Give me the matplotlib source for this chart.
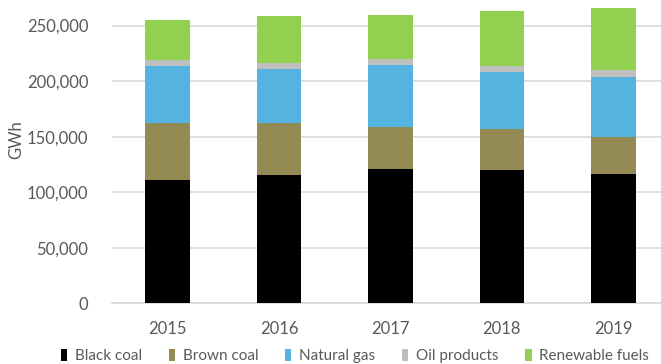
import numpy as np
from matplotlib import pyplot as plt

years = ["2015", "2016", "2017", "2018", "2019"]
black_coal = [111200, 115100, 120800, 120100, 116000]
brown_coal = [50700, 46800, 38000, 36400, 33800]
natural_gas = [51500, 48800, 55500, 51800, 53700]
oil_products = [5400, 5400, 5400, 5100, 6300]
renewable_fuels = [36600, 42300, 39600, 49700, 55800]

series = [
    ("Black coal", black_coal, "#000000"),
    ("Brown coal", brown_coal, "#948A54"),
    ("Natural gas", natural_gas, "#55B3DF"),
    ("Oil products", oil_products, "#BFBFBF"),
    ("Renewable fuels", renewable_fuels, "#92D050"),
]

plt.rcParams['font.family'] = ['Lato', 'DejaVu Sans']
text_col = "#595959"
grid_col = "#D9D9D9"

fig = plt.figure(figsize=(6.61, 3.64), dpi=100)
ax = fig.add_axes([112 / 661, 60.7 / 364, 557 / 661, 303.3 / 364])

x = np.arange(len(years))
bottom = np.zeros(len(years))
for name, vals, col in series:
    ax.bar(x, vals, 0.40, bottom=bottom, color=col, label=name, zorder=3)
    bottom += np.array(vals)

ax.set_xlim(-0.5, 4.5)
ax.set_ylim(0, 273000)
ax.set_yticks(range(0, 250001, 50000))
ax.set_yticklabels(["{:,}".format(v) for v in range(0, 250001, 50000)])
ax.set_xticks(x)
ax.set_xticklabels(years)
ax.yaxis.grid(True, color=grid_col, linewidth=1.2, zorder=0)
for s in ["top", "right", "left"]:
    ax.spines[s].set_visible(False)
ax.spines["bottom"].set_color(grid_col)
ax.spines["bottom"].set_linewidth(1.2)
ax.tick_params(axis="both", length=0, labelsize=12, colors=text_col)
ax.tick_params(axis="x", pad=13)
ax.tick_params(axis="y", pad=17)
ax.set_ylabel("GWh", fontsize=12, color=text_col)
ax.yaxis.set_label_coords(-0.158, 0.538)

leg = fig.legend(loc="lower center", bbox_to_anchor=(0.537, -0.035), ncol=5,
                 frameon=False, fontsize=11, handlelength=0.42, handleheight=0.8,
                 handletextpad=0.5, columnspacing=1.75)
for t in leg.get_texts():
    t.set_color(text_col)

plt.savefig("out.png", dpi=100)
plt.close()
